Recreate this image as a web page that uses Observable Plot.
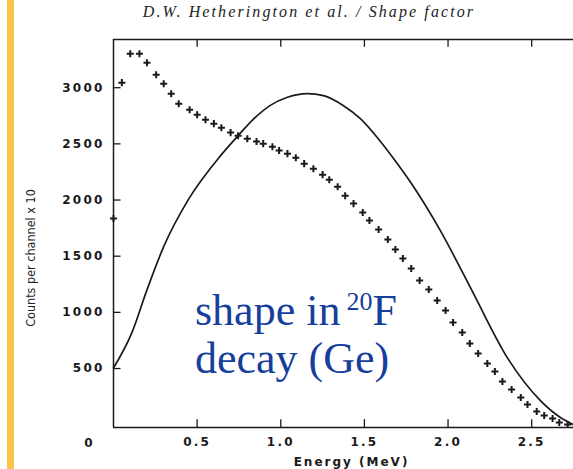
<!DOCTYPE html>
<html>
<head>
<meta charset="utf-8">
<script src="https://cdn.jsdelivr.net/npm/d3@7"></script>
<script src="https://cdn.jsdelivr.net/npm/@observablehq/plot@0.6"></script>
<style>
  html, body { margin: 0; padding: 0; background: #fff; }
  #wrap { position: relative; width: 573px; height: 469px; overflow: hidden; background: #fff; }
  #chart, #over { position: absolute; left: 0; top: 0; }
  #chart g[aria-label="x-axis tick label"], #chart g[aria-label="y-axis tick label"] { letter-spacing: 2.2px; }
  #chart g[aria-label="text"] { letter-spacing: 2px; }
</style>
</head>
<body>
<div id="wrap">
  <div id="chart"></div>
  <svg id="over" width="573" height="469" xmlns="http://www.w3.org/2000/svg">
    <rect x="7" y="0" width="7" height="469" fill="#FBC34A"></rect>
    <text x="309" y="17" text-anchor="middle" font-family="Liberation Serif, serif" font-style="italic" font-size="16" letter-spacing="2.1" fill="#222">D.W. Hetherington et al. / Shape factor</text>
    <text transform="translate(35,258) rotate(-90)" text-anchor="middle" font-family="DejaVu Sans Condensed, Liberation Sans Narrow, DejaVu Sans, sans-serif" font-stretch="condensed" font-size="12.5" fill="#222">Counts per channel x 10</text>
    <text x="195" y="325" font-family="Liberation Serif, Times New Roman, serif" font-size="44" fill="#163E9C">shape in<tspan font-size="26" dx="6" dy="-15">20</tspan><tspan dy="15">F</tspan></text>
    <text x="195" y="373" font-family="Liberation Serif, Times New Roman, serif" font-size="44" fill="#163E9C">decay (Ge)</text>
  </svg>
</div>
<script>
// Axis ticks
const xTicks = [0.5, 1.0, 1.5, 2.0, 2.5];
const xTickLabels = ["0.5", "1.0", "1.5", "2.0", "2.5"];
const yTicks = [500, 1000, 1500, 2000, 2500, 3000];
const xDomain = [0, 2.75];
const yDomain = [-25, 3429];

// Measured spectrum (+ markers): energy (MeV), counts per channel x 10
const dataEnergy = [0.00,0.05,0.10,0.155,0.20,0.255,0.30,0.345,0.39,0.455,0.50,0.55,0.60,0.645,0.70,0.745,0.80,0.855,0.895,0.95,0.99,1.04,1.09,1.14,1.195,1.25,1.29,1.34,1.385,1.435,1.49,1.53,1.585,1.64,1.685,1.73,1.78,1.83,1.885,1.935,1.985,2.03,2.085,2.13,2.18,2.235,2.28,2.325,2.38,2.435,2.475,2.53,2.575,2.625,2.665,2.715];
const dataCounts = [1835,3045,3303,3303,3222,3115,3035,2946,2857,2804,2760,2715,2680,2644,2600,2573,2546,2520,2502,2475,2440,2413,2377,2324,2279,2226,2181,2119,2039,1968,1888,1817,1737,1648,1559,1479,1390,1283,1203,1105,1016,909,820,722,633,545,474,385,313,242,180,117,82,55,20,2];

// Smooth curve (solid line)
const curveEnergy = [0, 0.11, 0.20, 0.30, 0.45, 0.64, 0.74, 0.84, 0.94, 1.04, 1.16, 1.255, 1.375, 1.476, 1.578, 1.674, 1.775, 1.955, 2.134, 2.355, 2.552, 2.672, 2.75];
const curveCounts = [505, 820, 1200, 1585, 2010, 2395, 2565, 2725, 2845, 2915, 2947, 2929, 2840, 2725, 2555, 2370, 2160, 1725, 1220, 595, 215, 64, 0];

const points = dataEnergy.map((e, i) => ({e, c: dataCounts[i]}));
const curve = curveEnergy.map((e, i) => ({e, c: curveCounts[i]}));

const ink = "#1a1a1a";
const tickLenX = 0.045;   // inward y-tick length in MeV units
const tickLenY = 70;      // inward x-tick length in count units

const chart = Plot.plot({
  width: 573,
  height: 469,
  marginLeft: 113,
  marginRight: 0,
  marginTop: 39,
  marginBottom: 42,
  x: {domain: xDomain},
  y: {domain: yDomain},
  style: {background: "transparent", fontFamily: "DejaVu Sans, sans-serif", color: ink},
  marks: [
    Plot.ruleX([xDomain[0]], {stroke: ink, strokeWidth: 1.5}),
    Plot.ruleY([yDomain[0]], {stroke: ink, strokeWidth: 1.5}),
    Plot.ruleY([yDomain[1]], {stroke: ink, strokeWidth: 1.5}),
    Plot.ruleY(yTicks, {x1: xDomain[0], x2: xDomain[0] + tickLenX, stroke: ink, strokeWidth: 1.3}),
    Plot.ruleX(xTicks, {y1: yDomain[0], y2: yDomain[0] + tickLenY, stroke: ink, strokeWidth: 1.3}),
    Plot.ruleX(xTicks, {y1: yDomain[1], y2: yDomain[1] - tickLenY, stroke: ink, strokeWidth: 1.3}),
    Plot.axisX({ticks: xTicks, tickFormat: (d) => xTickLabels[xTicks.indexOf(d)], tickSize: 0, tickPadding: 10, fontSize: 12, fontWeight: "bold", label: null}),
    Plot.axisY({ticks: yTicks, tickFormat: (d) => String(d), tickSize: 0, tickPadding: 9, fontSize: 12, fontWeight: "bold", label: null}),
    Plot.text(["0"], {x: xDomain[0], frameAnchor: "bottom", dx: -24, dy: 19, lineAnchor: "bottom", fontSize: 12, fontWeight: "bold", fill: ink}),
    Plot.text(["Energy (MeV)"], {frameAnchor: "bottom", dx: 8, dy: 38, lineAnchor: "bottom", fontSize: 12, fontWeight: "bold", fill: ink}),
    Plot.line(curve, {x: "e", y: "c", curve: "monotone-x", stroke: ink, strokeWidth: 1.7}),
    Plot.dot(points, {x: "e", y: "c", symbol: "plus", r: 2.4, stroke: ink, strokeWidth: 2})
  ]
});
document.getElementById("chart").append(chart);
</script>
</body>
</html>
